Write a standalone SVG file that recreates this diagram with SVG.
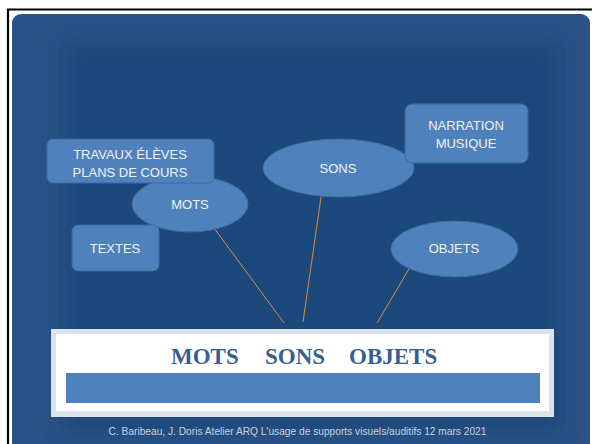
<svg xmlns="http://www.w3.org/2000/svg" width="592" height="444" viewBox="0 0 592 444">
<defs>
<filter id="soft" x="-10%" y="-10%" width="120%" height="120%"><feGaussianBlur stdDeviation="10"/></filter>
</defs>
<style>
.node{fill:#4f81bd;stroke:#3e6a9c;stroke-width:1}
.lbl{font-family:"Liberation Sans",Arial,sans-serif;font-size:13px;fill:#f2f2f2;text-anchor:middle}
.conn{stroke:#e8893a;stroke-width:1;fill:none}
.title{font-family:"Liberation Serif","Times New Roman",serif;font-size:23px;font-weight:bold;fill:#37608f}
.foot{font-family:"Liberation Sans",Arial,sans-serif;font-size:10.2px;fill:#c9d2df;text-anchor:middle}
</style>
<rect width="592" height="444" fill="#ffffff"/>
<path d="M8 444 V9.5 H592" fill="none" stroke="#000" stroke-width="2.2"/>
<rect x="12" y="14" width="578" height="438" rx="9" fill="#2a5286"/>
<rect x="62" y="42" width="500" height="390" fill="#1f487b" filter="url(#soft)"/>

<g id="connectors">
<line class="conn" x1="214" y1="228" x2="284" y2="323"/>
<line class="conn" x1="321" y1="197" x2="303" y2="322"/>
<line class="conn" x1="409" y1="269" x2="377" y2="323"/>
</g>

<g id="mots"><ellipse class="node" cx="190" cy="204" rx="58" ry="28"/><text class="lbl" x="190" y="209">MOTS</text></g>
<g id="sons"><ellipse class="node" cx="338.5" cy="168" rx="75.5" ry="29"/><text class="lbl" x="338" y="173">SONS</text></g>
<g id="objets"><ellipse class="node" cx="454.5" cy="249" rx="63.5" ry="28"/><text class="lbl" x="454" y="253">OBJETS</text></g>
<g id="travaux"><rect class="node" x="47" y="139" width="167" height="44" rx="6"/><text class="lbl" x="130" y="159">TRAVAUX ÉLÈVES</text><text class="lbl" x="130" y="177">PLANS DE COURS</text></g>
<g id="textes"><rect class="node" x="72" y="225" width="87" height="46" rx="6"/><text class="lbl" x="115" y="253">TEXTES</text></g>
<g id="narration"><rect class="node" x="405" y="104" width="123" height="59" rx="7"/><text class="lbl" x="466" y="130">NARRATION</text><text class="lbl" x="466" y="148">MUSIQUE</text></g>

<g id="titlebox">
<rect x="51" y="329" width="503" height="88" fill="#dbe2ec"/>
<rect x="56" y="334" width="493" height="77" fill="#ffffff"/>
<rect x="66" y="373" width="474" height="30" fill="#4f81bd"/>
<text class="title" x="171" y="364">MOTS</text>
<text class="title" x="265" y="364">SONS</text>
<text class="title" x="349" y="364">OBJETS</text>
</g>
<text class="foot" x="297.5" y="435">C. Baribeau, J. Doris Atelier ARQ L'usage de supports visuels/auditifs 12 mars 2021</text>
</svg>
